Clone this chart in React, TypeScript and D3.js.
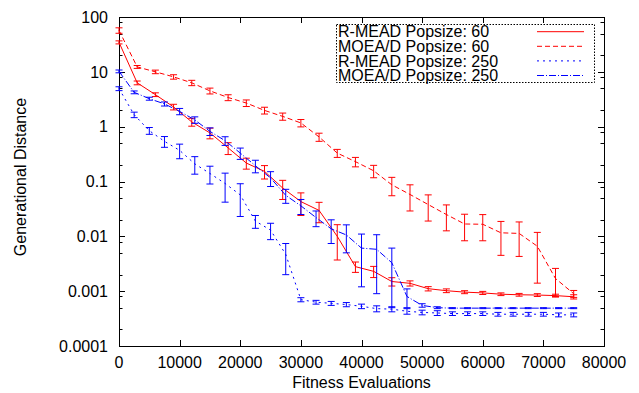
import React, { useEffect, useRef } from "react";
import * as d3 from "d3";

// evaluation grid of each population size
const EVALS_60 = [
  0, 3000, 6000, 9000, 12000, 15000, 18000, 21000, 24000, 27000, 30000, 33000, 36000,
  39000, 42000, 45000, 48000, 51000, 54000, 57000, 60000, 63000, 66000, 69000, 72000, 75000,
];
const EVALS_250 = [
  0, 2500, 5000, 7500, 10000, 12500, 15000, 17500, 20000, 22500, 25000, 27500, 30000,
  32500, 35000, 37500, 40000, 42500, 45000, 47500, 50000, 52500, 55000, 57500, 60000,
  62500, 65000, 67500, 70000, 72500, 75000,
];

// R-MEAD Popsize: 60
const RMEAD_60_MEAN = [
  34.5, 6.3, 3.84, 2.29, 1.22, 0.77, 0.41, 0.217, 0.153, 0.076, 0.043, 0.0297, 0.01,
  0.0028, 0.0023, 0.0015, 0.00139, 0.00111, 0.00102, 0.00096, 0.00093, 0.00088, 0.00086,
  0.00085, 0.00083, 0.00079,
];
const RMEAD_60_SD = [
  2.2, 0.5, 0.3, 0.27, 0.2, 0.17, 0.1, 0.049, 0.042, 0.029, 0.019, 0.012, 0.0063, 0.0006,
  0.00053, 0.00026, 0.00015, 0.0001, 0.00008, 0.00006, 0.00006, 0.00005, 0.00005, 0.00005,
  0.00005, 0.00007,
];

// MOEA/D Popsize: 60
const MOEAD_60_MEAN = [
  57, 12.3, 10, 8.1, 6.3, 4.5, 3.4, 2.7, 1.98, 1.54, 1.17, 0.65, 0.33, 0.23, 0.157, 0.087,
  0.058, 0.038, 0.025, 0.0168, 0.0166, 0.0116, 0.0113, 0.0066, 0.0017, 0.0009,
];
const MOEAD_60_SD = [
  6.5, 0.75, 0.75, 0.75, 0.7, 0.55, 0.42, 0.37, 0.28, 0.23, 0.18, 0.11, 0.055, 0.045, 0.04,
  0.032, 0.029, 0.019, 0.0124, 0.0085, 0.0083, 0.0071, 0.007, 0.0052, 0.0009, 0.00013,
];

// R-MEAD Popsize: 250
const RMEAD_250_MEAN = [
  4.94, 1.65, 0.845, 0.54, 0.37, 0.21, 0.14, 0.092, 0.057, 0.019, 0.013, 0.0047, 0.0007,
  0.00063, 0.0006, 0.00057, 0.00053, 0.00048, 0.00047, 0.00043, 0.00041, 0.0004, 0.00039,
  0.00039, 0.00039, 0.00038, 0.00038, 0.00038, 0.00038, 0.00037, 0.00037,
];
const RMEAD_250_SD = [
  0.4, 0.19, 0.12, 0.12, 0.11, 0.074, 0.05, 0.05, 0.034, 0.005, 0.0043, 0.0027, 0.00006,
  0.00005, 0.00005, 0.00005, 0.00005, 0.00006, 0.00005, 0.00005, 0.00004, 0.00004, 0.00003,
  0.00003, 0.00003, 0.00003, 0.00003, 0.00003, 0.00003, 0.00003, 0.00003,
];

// MOEA/D Popsize: 250
const MOEAD_250_MEAN = [
  10.2, 4.23, 3.24, 2.6, 1.9, 1.33, 0.82, 0.555, 0.33, 0.194, 0.116, 0.056, 0.036, 0.022,
  0.0137, 0.0106, 0.0061, 0.0058, 0.0033, 0.0008, 0.00055, 0.0005, 0.00049, 0.00049,
  0.00049, 0.00049, 0.00049, 0.00049, 0.00049, 0.00049, 0.00049,
];
const MOEAD_250_SD = [
  0.6, 0.25, 0.2, 0.22, 0.25, 0.18, 0.13, 0.1, 0.077, 0.05, 0.035, 0.016, 0.011, 0.007,
  0.0063, 0.0056, 0.0049, 0.0049, 0.0028, 0.0003, 0.00004, 0.00002, 0.00001, 0.00001,
  0.00001, 0.00001, 0.00001, 0.00001, 0.00001, 0.00001, 0.00001,
];

const LEGEND_LABELS = [
  "R-MEAD Popsize: 60",
  "MOEA/D Popsize: 60",
  "R-MEAD Popsize: 250",
  "MOEA/D Popsize: 250",
];
const X_TICKS = [0, 10000, 20000, 30000, 40000, 50000, 60000, 70000, 80000];
const Y_TICKS = [100, 10, 1, 0.1, 0.01, 0.001, 0.0001];
const Y_TICK_LABELS = ["100", "10", "1", "0.1", "0.01", "0.001", "0.0001"];
const Y_MINOR = [2, 5, 8];

const WIDTH = 639;
const HEIGHT = 393;
const LEFT = 119;
const RIGHT = 604;
const TOP = 17;
const BOTTOM = 346;
const FONT = "'Liberation Sans', Arial, Helvetica, sans-serif";

const SERIES = [
  { x: EVALS_60, mean: RMEAD_60_MEAN, sd: RMEAD_60_SD, color: "#ff0000", dash: null },
  { x: EVALS_60, mean: MOEAD_60_MEAN, sd: MOEAD_60_SD, color: "#ff0000", dash: "5,3" },
  { x: EVALS_250, mean: RMEAD_250_MEAN, sd: RMEAD_250_SD, color: "#0000ff", dash: "2,4" },
  { x: EVALS_250, mean: MOEAD_250_MEAN, sd: MOEAD_250_SD, color: "#0000ff", dash: "7,2,1,2" },
];

export default function App() {
  const ref = useRef<SVGSVGElement>(null);

  useEffect(() => {
    const svg = d3.select(ref.current);
    svg.selectAll("*").remove();

    const x = d3.scaleLinear().domain([0, 80000]).range([LEFT, RIGHT]);
    const y = d3.scaleLog().domain([0.0001, 100]).range([BOTTOM, TOP]);

    const ax = svg.append("g").attr("stroke", "#000").attr("stroke-width", 1);

    // x ticks, bottom and mirrored top
    X_TICKS.forEach((t) => {
      const px = Math.round(x(t)) + 0.5;
      ax.append("line").attr("x1", px).attr("x2", px).attr("y1", BOTTOM).attr("y2", BOTTOM - 6);
      ax.append("line").attr("x1", px).attr("x2", px).attr("y1", TOP).attr("y2", TOP + 6);
    });

    // y major + minor ticks, left and mirrored right
    const yTick = (v: number, len: number) => {
      const py = Math.round(y(v)) + 0.5;
      ax.append("line").attr("x1", LEFT).attr("x2", LEFT + len).attr("y1", py).attr("y2", py);
      ax.append("line").attr("x1", RIGHT).attr("x2", RIGHT - len).attr("y1", py).attr("y2", py);
    };
    Y_TICKS.forEach((t) => yTick(t, 6));
    Y_TICKS.slice(1).forEach((d) => Y_MINOR.forEach((m) => yTick(d * m, 3.5)));

    ax.append("rect")
      .attr("x", LEFT + 0.5)
      .attr("y", TOP + 0.5)
      .attr("width", RIGHT - LEFT)
      .attr("height", BOTTOM - TOP)
      .attr("fill", "none");

    const txt = svg.append("g").attr("font-family", FONT).attr("font-size", 16).attr("fill", "#000");
    Y_TICKS.forEach((t, i) => {
      txt.append("text")
        .attr("x", 108)
        .attr("y", y(t) + 5.7)
        .attr("text-anchor", "end")
        .text(Y_TICK_LABELS[i]);
    });
    X_TICKS.forEach((t) => {
      txt.append("text").attr("x", x(t)).attr("y", 368).attr("text-anchor", "middle").text(t);
    });
    txt.append("text")
      .attr("x", (LEFT + RIGHT) / 2)
      .attr("y", 388)
      .attr("text-anchor", "middle")
      .text("Fitness Evaluations");
    txt.append("text")
      .attr("transform", "translate(26,177) rotate(-90)")
      .attr("text-anchor", "middle")
      .text("Generational Distance");

    // series: error bars (solid) then the line
    const plot = svg.append("g").attr("fill", "none").attr("stroke-width", 1);
    SERIES.forEach((s) => {
      const g = plot.append("g").attr("stroke", s.color);
      s.mean.forEach((m, i) => {
        const px = x(s.x[i]);
        const hi = y(m + s.sd[i]);
        const lo = y(Math.max(m - s.sd[i], 0.0001));
        g.append("line").attr("x1", px).attr("x2", px).attr("y1", hi).attr("y2", lo);
        g.append("line").attr("x1", px - 3.5).attr("x2", px + 3.5).attr("y1", hi).attr("y2", hi);
        g.append("line").attr("x1", px - 3.5).attr("x2", px + 3.5).attr("y1", lo).attr("y2", lo);
      });
      const line = d3
        .line<number>()
        .x((_, i) => x(s.x[i]))
        .y((d) => y(d));
      g.append("path")
        .attr("d", line(s.mean))
        .attr("stroke-dasharray", s.dash);
    });

    // legend
    const leg = svg.append("g");
    leg.append("rect")
      .attr("x", 336.5)
      .attr("y", 24.5)
      .attr("width", 258)
      .attr("height", 58)
      .attr("fill", "#fff")
      .attr("stroke", "#000")
      .attr("stroke-dasharray", "1.5,1.5");
    LEGEND_LABELS.forEach((label, i) => {
      const base = 37.3 + i * 14.6;
      leg.append("text")
        .attr("x", 338)
        .attr("y", base)
        .attr("font-family", FONT)
        .attr("font-size", 16)
        .text(label);
      leg.append("line")
        .attr("x1", 537)
        .attr("x2", 584)
        .attr("y1", base - 5.6)
        .attr("y2", base - 5.6)
        .attr("stroke", SERIES[i].color)
        .attr("stroke-dasharray", SERIES[i].dash);
    });
  }, []);

  return (
    <svg
      ref={ref}
      width={WIDTH}
      height={HEIGHT}
      style={{ position: "absolute", left: 0, top: 0, background: "#fff" }}
    ></svg>
  );
}
